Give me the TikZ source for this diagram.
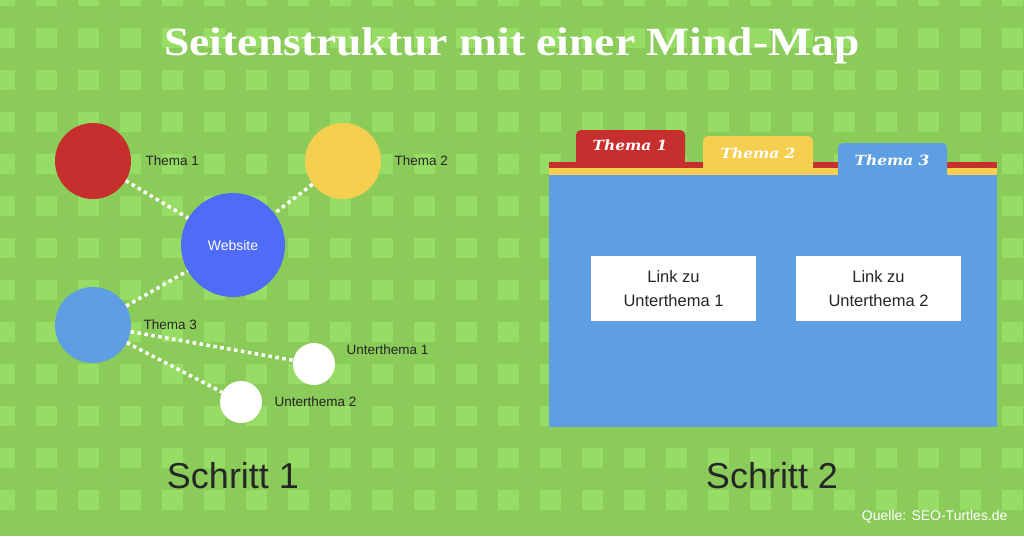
\documentclass[tikz,border=0pt]{standalone}
\usepackage{fontspec}
\setmainfont{Liberation Sans}
\newfontfamily\titlefont{Liberation Serif}
\newfontfamily\tabfont{DejaVu Serif}
\begin{document}
\begin{tikzpicture}[x=1pt,y=-1pt,
  lbl/.style={font=\fontsize{13.5}{16}\selectfont, anchor=west, text=black!85},
  dots/.style={white, line width=3.5pt, dash pattern=on 3.5pt off 3.5pt},
  circ/.style={circle, inner sep=0pt, minimum size=#1},
  tabt/.style={font=\tabfont\bfseries\itshape\fontsize{14}{16}\selectfont, text=white},
  wbox/.style={fill=white, minimum width=165pt, minimum height=65pt, align=center, font=\fontsize{16.5}{24}\selectfont, text=black!85}]
\definecolor{bg}{HTML}{8BCB5A}
\definecolor{sq}{HTML}{97DC64}
\definecolor{cred}{HTML}{C62F2D}
\definecolor{cyel}{HTML}{F6CF50}
\definecolor{cblue}{HTML}{5E9EE3}
\definecolor{wblue}{HTML}{4E6CF8}
\fill[bg] (0,0) rectangle (1024,536);
\useasboundingbox (0,0) rectangle (1024,536);
\foreach \i in {0,...,24} \foreach \j in {0,...,12}
  \fill[sq] ({-6+42*\i},{28+42*\j-42}) rectangle ++(21,20);
\node[font=\titlefont\bfseries\fontsize{40}{44}\selectfont, text=white, xscale=1.14] (title) at (512,46) {Seitenstruktur mit einer Mind-Map};
% mind map
\node[circ=76pt, fill=cred] (t1) at (93,161) {};
\node[circ=76pt, fill=cyel] (t2) at (343,161) {};
\node[circ=104pt, fill=wblue, text=white, font=\fontsize{14}{16}\selectfont] (web) at (233,245) {Website};
\node[circ=76pt, fill=cblue] (t3) at (93,325) {};
\node[circ=42pt, fill=white] (u1) at (314,364) {};
\node[circ=42pt, fill=white] (u2) at (241,402) {};
\draw[dots] (t1) -- (web);
\draw[dots] (t2) -- (web);
\draw[dots] (t3) -- (web);
\draw[dots] (t3) -- (u1);
\draw[dots] (t3) -- (u2);
\node[lbl] (l1) at (142,161) {Thema 1};
\node[lbl] (l2) at (391,161) {Thema 2};
\node[lbl] (l3) at (140,325) {Thema 3};
\node[lbl] (l4) at (343,350) {Unterthema 1};
\node[lbl] (l5) at (271,402) {Unterthema 2};
% tabs
\fill[cred, rounded corners=5pt] (576,168) -- (576,130) -- (685,130) -- (685,168) -- cycle;
\fill[cred] (549,162) rectangle (997,169);
\fill[cyel, rounded corners=5pt] (703,175) -- (703,136) -- (813,136) -- (813,175) -- cycle;
\fill[cyel] (549,168) rectangle (997,176);
\fill[cblue, rounded corners=5pt] (838,180) -- (838,143) -- (947,143) -- (947,180) -- cycle;
\fill[cblue] (549,175) rectangle (997,427);
\node[tabt, xscale=1.1] (a1) at (630,145) {Thema 1};
\node[tabt, xscale=1.1] (a2) at (758,153) {Thema 2};
\node[tabt, xscale=1.1] (a3) at (892,160) {Thema 3};
\node[wbox] (b1) at (673.5,288.5) {Link zu\\Unterthema 1};
\node[wbox] (b2) at (878.5,288.5) {Link zu\\Unterthema 2};
\node[font=\fontsize{36}{40}\selectfont, text=black!85] (s1) at (233,476) {Schritt 1};
\node[font=\fontsize{36}{40}\selectfont, text=black!85] (s2) at (772,476) {Schritt 2};
\node[font=\fontsize{14}{16}\selectfont, text=white, anchor=east] (q) at (1011,517) {Quelle: SEO-Turtles.de};
\end{tikzpicture}
\end{document}
